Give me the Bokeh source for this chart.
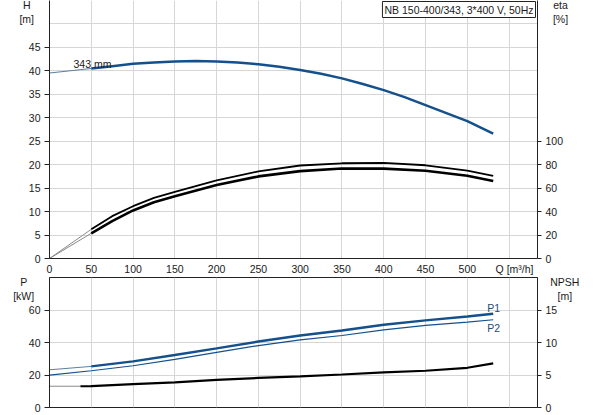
from bokeh.plotting import figure
from bokeh.models import Range1d, LinearAxis, FixedTicker, Label
from bokeh.layouts import column
from bokeh.embed import file_html
from bokeh.resources import INLINE

# ---------------- data ----------------
q_head = [0, 50, 75, 100, 125, 150, 175, 200, 225, 250, 275, 300, 325, 350, 375, 400,
          425, 450, 475, 500, 531]
head = [39.55, 40.5, 41.0, 41.5, 41.8, 42.0, 42.1, 42.0, 41.8, 41.4, 40.9, 40.2, 39.4,
        38.4, 37.2, 35.9, 34.4, 32.7, 31.0, 29.3, 26.6]
q_eta = [0, 50, 75, 100, 125, 150, 200, 250, 300, 350, 400, 450, 500, 531]
eta_pump = [0, 24.9, 36.1, 44.6, 51.7, 56.8, 66.7, 74.3, 79.3, 81.2, 81.5, 79.5, 75.0, 70.5]
eta_total = [0, 21.5, 31.9, 41.0, 48.0, 53.1, 62.6, 70.0, 74.5, 76.8, 76.6, 74.8, 70.6, 66.0]
q = [0, 50, 100, 150, 200, 250, 300, 350, 400, 450, 500, 531]
p1 = [23.2, 25.3, 28.4, 32.3, 36.4, 40.6, 44.3, 47.4, 50.9, 53.6, 56.0, 57.7]
p2 = [19.9, 22.6, 25.7, 29.6, 33.9, 38.1, 41.6, 44.3, 47.8, 50.5, 52.5, 54.0]
q_npsh = [0, 37, 50, 100, 150, 200, 250, 300, 350, 400, 450, 500, 531]
npsh = [3.27, 3.27, 3.3, 3.6, 3.88, 4.25, 4.55, 4.8, 5.08, 5.39, 5.65, 6.11, 6.78]

h_ticks = [0, 5, 10, 15, 20, 25, 30, 35, 40, 45]
h_grid = [5, 10, 15, 20, 25, 30, 35, 40, 45, 50]
eta_ticks = [0, 20, 40, 60, 80, 100]
q_ticks = [0, 50, 100, 150, 200, 250, 300, 350, 400, 450, 500]
q_grid = [50, 100, 150, 200, 250, 300, 350, 400, 450, 500, 550]
p_ticks = [0, 20, 40, 60]
p_grid = [20, 40, 60]
npsh_ticks = [0, 5, 10, 15]

title_text = "NB 150-400/343, 3*400 V, 50Hz"
impeller_text = "343 mm"
q_label = "Q [m³/h]"
Q_LABEL_AT = 556.5
h_label = "H\n[m]"
eta_label = "eta\n[%]"
p_label = "P\n[kW]"
npsh_label = "NPSH\n[m]"

FONT = "Liberation Sans"
FS = "10.5px"
BLUE = "#14508c"
THIN_BLUE = "#5d7ea3"
GRID = "#d6d6d6"
AX = "#222222"


def style_axis(ax, tick_out=5, standoff=4):
    ax.axis_line_color = AX
    ax.major_tick_line_color = AX
    ax.major_tick_out = tick_out
    ax.major_tick_in = 0
    ax.minor_tick_line_color = None
    ax.major_label_standoff = standoff
    ax.major_label_text_font = FONT
    ax.major_label_text_font_size = FS
    ax.major_label_text_color = "#1a1a1a"


def txt(p, x, y, s, align="center", color="#1a1a1a", side="center"):
    p.add_layout(Label(x=x, y=y, text=s, text_align=align, text_baseline="middle",
                       text_font=FONT, text_font_size=FS, text_color=color,
                       text_line_height=1.2), side)


# ---------------- top: head + efficiency ----------------
top = figure(width=593, height=277, x_range=Range1d(0, 584), y_range=Range1d(0, 55),
             output_backend="svg", toolbar_location=None,
             min_border_left=49, min_border_right=56, min_border_top=0, min_border_bottom=18)
top.outline_line_color = None
top.extra_y_ranges = {"eta": Range1d(0, 220)}

top.xaxis.ticker = FixedTicker(ticks=q_ticks + [Q_LABEL_AT])
top.xaxis.major_label_overrides = {Q_LABEL_AT: q_label}
style_axis(top.xaxis[0], tick_out=0, standoff=4)
top.yaxis.ticker = FixedTicker(ticks=h_ticks)
style_axis(top.yaxis[0], tick_out=5, standoff=4)
eta_axis = LinearAxis(y_range_name="eta", ticker=FixedTicker(ticks=eta_ticks))
style_axis(eta_axis, tick_out=4, standoff=4)
top.add_layout(eta_axis, "right")

top.xgrid.ticker = FixedTicker(ticks=q_grid)
top.ygrid.ticker = FixedTicker(ticks=h_grid)
for g in (top.xgrid[0], top.ygrid[0]):
    g.grid_line_color = GRID
    g.grid_line_width = 1

# efficiency curves
top.line(q_eta[:2], eta_pump[:2], y_range_name="eta", line_color="#8a8a8a", line_width=1)
top.line(q_eta[:2], eta_total[:2], y_range_name="eta", line_color="#8a8a8a", line_width=1)
top.line(q_eta[1:], eta_pump[1:], y_range_name="eta", line_color="black", line_width=1.8)
top.line(q_eta[1:], eta_total[1:], y_range_name="eta", line_color="black", line_width=2.6)

# head curve
top.line(q_head[:2], head[:2], line_color=THIN_BLUE, line_width=1.2)
top.line(q_head[1:], head[1:], line_color=BLUE, line_width=2.5)

txt(top, 28.7, 41.4, impeller_text, align="left")
txt(top, -27.3, 52.6, h_label, side="left")
txt(top, 611.5, 52.6, eta_label, side="right")

top.add_layout(Label(x=584, y=55, text=title_text, text_align="right", text_baseline="top",
                     text_font=FONT, text_font_size=FS, text_color="#1a1a1a",
                     background_fill_color="white", border_line_color=AX,
                     padding=2, x_offset=-2, y_offset=-1))

# ---------------- bottom: power + NPSH ----------------
bot = figure(width=593, height=136, x_range=top.x_range, y_range=Range1d(0, 80),
             output_backend="svg", toolbar_location=None, x_axis_location=None,
             min_border_left=49, min_border_right=56, min_border_top=0, min_border_bottom=6)
bot.outline_line_color = AX
bot.extra_y_ranges = {"npsh": Range1d(0, 20)}
bot.yaxis.ticker = FixedTicker(ticks=p_ticks)
style_axis(bot.yaxis[0], tick_out=5, standoff=4)
npsh_axis = LinearAxis(y_range_name="npsh", ticker=FixedTicker(ticks=npsh_ticks))
style_axis(npsh_axis, tick_out=4, standoff=4)
bot.add_layout(npsh_axis, "right")
bot.xgrid.ticker = FixedTicker(ticks=q_grid)
bot.ygrid.ticker = FixedTicker(ticks=p_grid)
for g in (bot.xgrid[0], bot.ygrid[0]):
    g.grid_line_color = GRID
    g.grid_line_width = 1

bot.line(q[:2], p1[:2], line_color=THIN_BLUE, line_width=1)
bot.line(q[1:], p1[1:], line_color=BLUE, line_width=2.4)
bot.line(q, p2, line_color=BLUE, line_width=1.2)
bot.line(q_npsh[:2], npsh[:2], y_range_name="npsh", line_color="#8a8a8a", line_width=1)
bot.line(q_npsh[1:], npsh[1:], y_range_name="npsh", line_color="black", line_width=2.2)

txt(bot, 523.8, 61.1, "P1", align="left", color="#1f4a78")
txt(bot, 523.8, 48.8, "P2", align="left", color="#1f4a78")
txt(bot, -30.9, 72.8, p_label, side="left")
txt(bot, 616.7, 72.8, npsh_label, side="right")

layout = column(top, bot, spacing=0)

open("out.html", "w").write(file_html(layout, INLINE))
